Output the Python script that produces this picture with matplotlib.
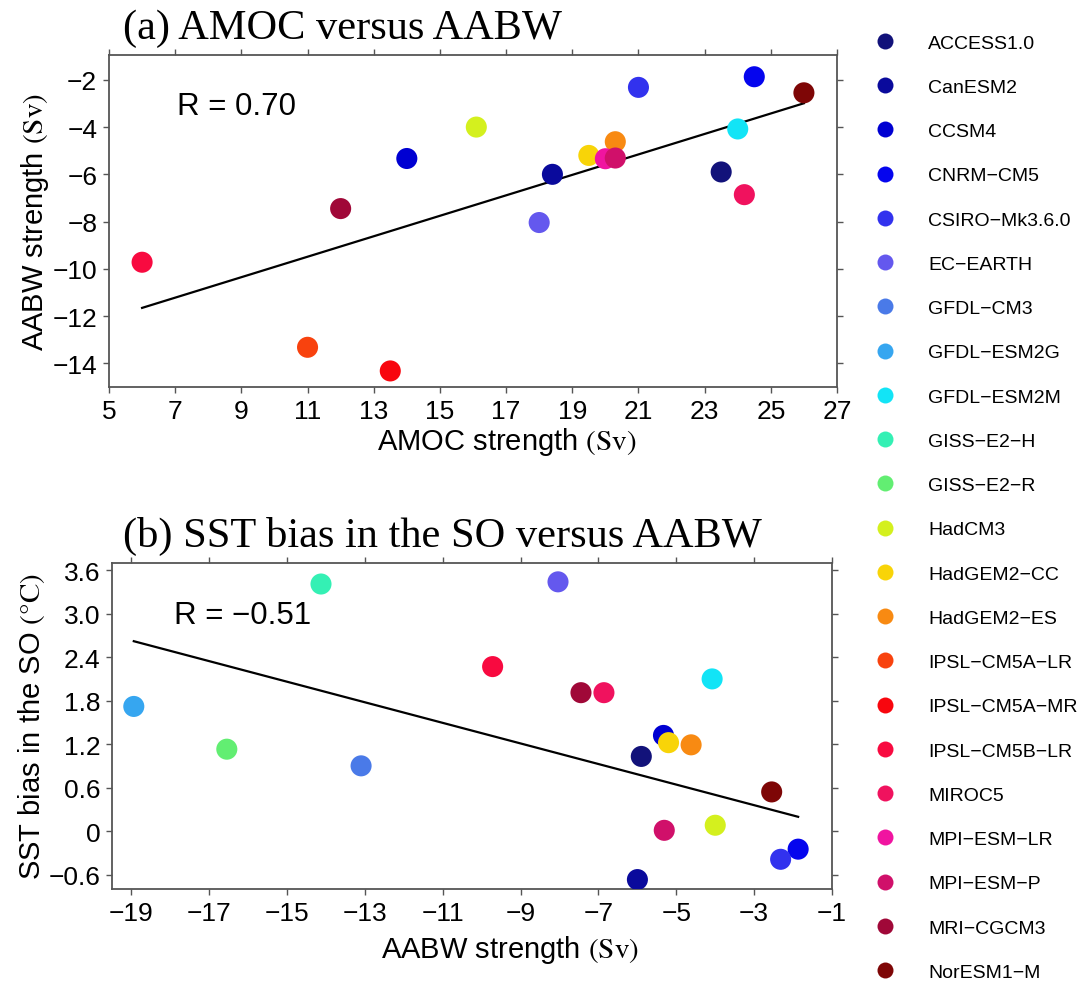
import numpy as np
import matplotlib
matplotlib.use("Agg")
import matplotlib.pyplot as plt
from matplotlib.lines import Line2D

plt.rcParams['font.family'] = ['Liberation Sans', 'DejaVu Sans']
plt.rcParams['mathtext.fontset'] = 'stix'

# model names and colours (legend order)
models = ['ACCESS1.0', 'CanESM2', 'CCSM4', 'CNRM\u2212CM5', 'CSIRO\u2212Mk3.6.0',
          'EC\u2212EARTH', 'GFDL\u2212CM3', 'GFDL\u2212ESM2G', 'GFDL\u2212ESM2M',
          'GISS\u2212E2\u2212H', 'GISS\u2212E2\u2212R', 'HadCM3', 'HadGEM2\u2212CC',
          'HadGEM2\u2212ES', 'IPSL\u2212CM5A\u2212LR', 'IPSL\u2212CM5A\u2212MR',
          'IPSL\u2212CM5B\u2212LR', 'MIROC5', 'MPI\u2212ESM\u2212LR', 'MPI\u2212ESM\u2212P',
          'MRI\u2212CGCM3', 'NorESM1\u2212M']
colors = ['#12127a', '#0a0a9c', '#0000d2', '#0505ee', '#3232ee',
          '#6458ee', '#4a7ae8', '#36a6f0', '#12e4f6', '#34f0b4',
          '#62ee72', '#d4f01e', '#f8d408', '#f88a12', '#f8420e',
          '#f8060e', '#f80a40', '#f0125e', '#f014a0', '#d0106a',
          '#a00838', '#7e0606']

nan = np.nan
# AMOC strength (Sv), nan where not available
amoc = [23.5, 18.4, 14.0, 24.5, 21.0,
        18.0, nan, nan, 24.0,
        nan, nan, 16.1, 19.5,
        20.3, 11.0, 13.5,
        6.0, 24.2, 20.0, 20.3,
        12.0, 26.0]
# AABW strength (Sv)
aabw = [-5.9, -6.0, -5.33, -1.87, -2.32,
        -8.04, -13.1, -18.94, -4.08,
        -14.13, -16.55, -4.0, -5.2,
        -4.62, -13.32, -14.32,
        -9.72, -6.86, -5.34, -5.31,
        -7.45, -2.55]
# SST bias in the Southern Ocean (degC)
sst = [1.03, -0.67, 1.32, -0.25, -0.39,
       3.44, 0.9, 1.72, 2.1,
       3.41, 1.13, 0.08, 1.22,
       1.19, nan, nan,
       2.27, 1.91, nan, 0.01,
       1.91, 0.54]

# regression lines as drawn in the figure (slope, intercept)
fit_a = [0.433, -14.25]
fit_b = [-0.142, -0.069]
r_a = 'R = 0.70'
r_b = 'R = \u22120.51'

amoc_ticks = np.arange(5, 28, 2)
aabw_ticks_a = np.arange(-14, -1, 2)
aabw_ticks_b = np.arange(-19, 0, 2)
sst_ticks = [-0.6, 0, 0.6, 1.2, 1.8, 2.4, 3.0, 3.6]

amoc = np.array(amoc)
aabw = np.array(aabw)
sst = np.array(sst)


def style(ax):
    for s in ax.spines.values():
        s.set_color('#555555')
        s.set_linewidth(1.3)
    ax.tick_params(direction='out', length=4, width=1.0, color='#555555',
                   labelsize=19, top=True, right=True, pad=4.5)


def fit_line(ax, x, y, p):
    ok = ~np.isnan(x) & ~np.isnan(y)
    xx = np.array([x[ok].min(), x[ok].max()])
    ax.plot(xx, np.polyval(p, xx), color='black', lw=1.6, zorder=2)


def fmt(v):
    if v == 0:
        return '0'
    return ('%.1f' % v).replace('-', '\u2212')


fig = plt.figure(figsize=(10.82, 9.87), dpi=100)

# (a) AMOC vs AABW
ax1 = fig.add_axes([109/1082, 1-388/987, 728/1082, 332/987])
fit_line(ax1, amoc, aabw, fit_a)
ax1.scatter(amoc, aabw, c=colors, s=230, edgecolors='none', zorder=3)
ax1.set_xlim(5, 27)
ax1.set_ylim(-15, -0.95)
ax1.set_xticks(amoc_ticks)
ax1.set_yticks(aabw_ticks_a)
style(ax1)
ax1.set_xlabel(r'AMOC strength $\mathrm{(Sv)}$', fontsize=21, labelpad=1.5)
ax1.xaxis.label.set_x(0.547)
ax1.set_ylabel(r'AABW strength $\mathrm{(Sv)}$', fontsize=21, labelpad=1)
ax1.text(0.019, 1.025, '(a) AMOC versus AABW', transform=ax1.transAxes,
         family='Liberation Serif', fontsize=30.5, va='bottom', ha='left')
ax1.text(7.05, -3.1, r_a, fontsize=22.5, va='center')

# (b) SST bias vs AABW
ax2 = fig.add_axes([112/1082, 1-890/987, 720/1082, 326/987])
fit_line(ax2, aabw, sst, fit_b)
ax2.scatter(aabw, sst, c=colors, s=230, edgecolors='none', zorder=3)
ax2.set_xlim(-19.5, -1)
ax2.set_ylim(-0.8, 3.7)
ax2.set_xticks(aabw_ticks_b)
ax2.set_yticks(sst_ticks, [fmt(v) for v in sst_ticks])
style(ax2)
ax2.set_xlabel(r'AABW strength $\mathrm{(Sv)}$', fontsize=21, labelpad=6)
ax2.xaxis.label.set_x(0.553)
ax2.set_ylabel(r'SST bias in the SO $\mathrm{(°C)}$', fontsize=21, labelpad=1)
ax2.text(0.015, 1.025, '(b) SST bias in the SO versus AABW', transform=ax2.transAxes,
         family='Liberation Serif', fontsize=30.5, va='bottom', ha='left')
ax2.text(-17.9, 2.98, r_b, fontsize=22.5, va='center')

# legend on the right
handles = [Line2D([], [], ls='none', marker='o', ms=11.5, mfc=c, mec='none')
           for c in colors]
fig.legend(handles, models, loc='upper left', bbox_to_anchor=(875/1082, 1-35/987),
           frameon=False, fontsize=14, labelspacing=1.37, handlelength=1.0,
           handletextpad=1.72, borderpad=0, borderaxespad=0)

fig.savefig('out.png', dpi=100)
